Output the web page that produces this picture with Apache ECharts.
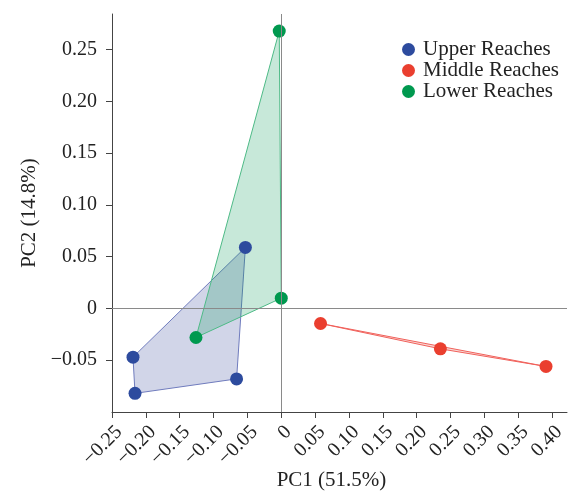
<!DOCTYPE html>
<html>
<head>
<meta charset="utf-8">
<script src="https://cdn.jsdelivr.net/npm/echarts@6/dist/echarts.min.js"></script>
<style>
  html, body { margin: 0; padding: 0; background: #fff; }
  #chart { width: 575px; height: 492px; }
</style>
</head>
<body>
<div id="chart"></div>
<script>
// points listed in hull order
const upperPts = [[-0.053, 0.059], [-0.219, -0.047], [-0.216, -0.082], [-0.066, -0.068]];
const middlePts = [[0.058, -0.0145], [0.235, -0.039], [0.391, -0.056]];
const lowerPts = [[-0.003, 0.268], [0.0, 0.010], [-0.126, -0.028]];

const xTicks = [-0.25, -0.2, -0.15, -0.1, -0.05, 0, 0.05, 0.1, 0.15, 0.2, 0.25, 0.3, 0.35, 0.4];
const yTicks = [-0.05, 0, 0.05, 0.1, 0.15, 0.2, 0.25];

const FONT = "'Liberation Serif', 'Times New Roman', serif";

function fmt(v) {
  if (Math.abs(v) < 1e-9) return '0';
  return v.toFixed(2).replace('-', '\u2212');
}

function hull(name, pts, stroke, fill) {
  return {
    name: name,
    type: 'custom',
    z: 1,
    silent: true,
    data: pts,
    renderItem: function (params, api) {
      if (params.dataIndex !== 0) return null;
      const points = pts.map(p => api.coord(p));
      return {
        type: 'polygon',
        shape: { points: points },
        style: { fill: fill, stroke: stroke, lineWidth: 1 }
      };
    }
  };
}

function dots(name, pts, color) {
  return {
    name: name,
    type: 'scatter',
    z: 3,
    symbolSize: 13,
    data: pts,
    itemStyle: { color: color, opacity: 1 }
  };
}

const myChart = echarts.init(document.getElementById('chart'));

myChart.setOption({
  animation: false,
  textStyle: { fontFamily: FONT },
  grid: { left: 112, right: 8, top: 14, bottom: 80, outerBoundsMode: 'none' },
  legend: {
    data: ['Upper Reaches', 'Middle Reaches', 'Lower Reaches'],
    orient: 'vertical',
    left: 397,
    top: 34,
    itemWidth: 13,
    itemHeight: 13,
    itemGap: 0,
    icon: 'circle',
    textStyle: { fontFamily: FONT, fontSize: 21, lineHeight: 21, color: '#222', padding: [0, 0, 0, 3] }
  },
  xAxis: {
    type: 'value',
    min: -0.25,
    max: 0.422,
    name: 'PC1 (51.5%)',
    nameLocation: 'middle',
    nameGap: 58,
    nameMoveOverlap: false,
    nameTextStyle: { fontFamily: FONT, fontSize: 21, color: '#222', padding: [0, 16, 0, 0] },
    splitLine: { show: false },
    axisLine: { onZero: false, lineStyle: { color: '#444', width: 1 } },
    axisTick: { show: true, length: 6, customValues: xTicks, lineStyle: { color: '#444' } },
    axisLabel: {
      customValues: xTicks,
      rotate: 45,
      margin: 10,
      verticalAlign: 'top',
      fontFamily: FONT,
      fontSize: 20,
      color: '#222',
      formatter: fmt
    }
  },
  yAxis: {
    type: 'value',
    min: -0.1,
    max: 0.2845,
    name: 'PC2 (14.8%)',
    nameLocation: 'middle',
    nameGap: 72,
    nameMoveOverlap: false,
    nameTextStyle: { fontFamily: FONT, fontSize: 21, color: '#222' },
    splitLine: { show: false },
    axisLine: { show: true, onZero: false, lineStyle: { color: '#444', width: 1 } },
    axisTick: { show: true, length: 6, customValues: yTicks, lineStyle: { color: '#444' } },
    axisLabel: {
      customValues: yTicks,
      margin: 15,
      fontFamily: FONT,
      fontSize: 20,
      color: '#222',
      formatter: fmt
    }
  },
  series: [
    {
      name: 'zero',
      type: 'line',
      data: [],
      z: 0,
      markLine: {
        silent: true,
        symbol: 'none',
        label: { show: false },
        lineStyle: { color: '#8a8a8a', type: 'solid', width: 1 },
        data: [{ xAxis: 0 }, { yAxis: 0 }]
      }
    },
    hull('Upper hull', upperPts, '#6f7bbd', 'rgba(45,62,150,0.22)'),
    hull('Middle hull', middlePts, '#f0605a', 'rgba(232,58,46,0.2)'),
    hull('Lower hull', lowerPts, '#4dba86', 'rgba(0,150,80,0.22)'),
    dots('Upper Reaches', upperPts, '#2d4b9e'),
    dots('Middle Reaches', middlePts, '#ea3f2f'),
    dots('Lower Reaches', lowerPts, '#00994f')
  ]
});
</script>
</body>
</html>
